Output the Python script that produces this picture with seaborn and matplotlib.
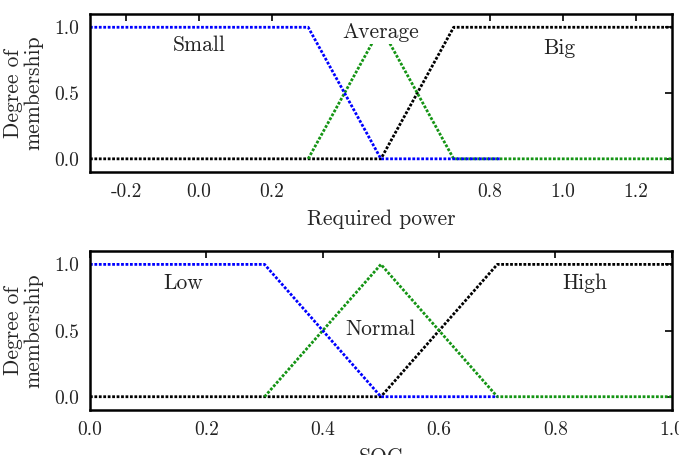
import matplotlib
matplotlib.use("Agg")
import matplotlib.pyplot as plt
import seaborn as sns

# Membership functions - required power
power_small_x = [-0.3, 0.3, 0.5, 0.83]
power_small_y = [1.0, 1.0, 0.0, 0.0]
power_avg_x = [0.3, 0.5, 0.7, 1.3]
power_avg_y = [0.0, 1.0, 0.0, 0.0]
power_big_x = [-0.3, 0.5, 0.7, 1.3]
power_big_y = [0.0, 0.0, 1.0, 1.0]

# Membership functions - SOC
soc_low_x = [0.0, 0.3, 0.5, 0.7]
soc_low_y = [1.0, 1.0, 0.0, 0.0]
soc_normal_x = [0.3, 0.5, 0.7, 1.0]
soc_normal_y = [0.0, 1.0, 0.0, 0.0]
soc_high_x = [0.0, 0.5, 0.7, 1.0]
soc_high_y = [0.0, 0.0, 1.0, 1.0]

power_ticks = [-0.2, 0.0, 0.2, 0.8, 1.0, 1.2]
soc_ticks = [0.0, 0.2, 0.4, 0.6, 0.8, 1.0]
y_ticks = [0.0, 0.5, 1.0]

sns.set_style("white")
plt.rcParams["font.family"] = ["cmr10", "DejaVu Serif"]
plt.rcParams["axes.unicode_minus"] = False
plt.rcParams["text.color"] = "#222222"

fs = 14      # tick labels
lfs = 15.5   # axis labels and annotations
dots = (0, (1, 0.6))

fig = plt.figure(figsize=(6.79, 4.55), dpi=100)
ax1 = fig.add_axes([0.1325, 0.622, 0.857, 0.347])
ax2 = fig.add_axes([0.1325, 0.099, 0.857, 0.349])

# top panel
sns.lineplot(x=power_big_x, y=power_big_y, ax=ax1, color="black", lw=2, linestyle=dots)
sns.lineplot(x=power_avg_x, y=power_avg_y, ax=ax1, color="#149414", lw=2, linestyle=dots)
sns.lineplot(x=power_small_x, y=power_small_y, ax=ax1, color="blue", lw=2, linestyle=dots)
ax1.set_xlim(-0.3, 1.3)
ax1.set_xticks(power_ticks)
ax1.set_xticklabels([f"{t:.1f}" for t in power_ticks])
ax1.set_xlabel("Required power", fontsize=lfs, labelpad=6)
ax1.text(0.0, 0.86, "Small", fontsize=lfs, ha="center", va="center")
ax1.text(0.5, 0.96, "Average", fontsize=lfs, ha="center", va="center",
         bbox=dict(facecolor="white", edgecolor="none", pad=1), zorder=5)
ax1.text(0.99, 0.84, "Big", fontsize=lfs, ha="center", va="center")

# bottom panel
sns.lineplot(x=soc_high_x, y=soc_high_y, ax=ax2, color="black", lw=2, linestyle=dots)
sns.lineplot(x=soc_normal_x, y=soc_normal_y, ax=ax2, color="#149414", lw=2, linestyle=dots)
sns.lineplot(x=soc_low_x, y=soc_low_y, ax=ax2, color="blue", lw=2, linestyle=dots)
ax2.set_xlim(0.0, 1.0)
ax2.set_xticks(soc_ticks)
ax2.set_xticklabels([f"{t:.1f}" for t in soc_ticks])
ax2.set_xlabel("SOC", fontsize=lfs, labelpad=6)
ax2.text(0.16, 0.86, "Low", fontsize=lfs, ha="center", va="center")
ax2.text(0.50, 0.51, "Normal", fontsize=lfs, ha="center", va="center")
ax2.text(0.85, 0.86, "High", fontsize=lfs, ha="center", va="center")

for ax in (ax1, ax2):
    ax.set_ylim(-0.1, 1.1)
    ax.set_yticks(y_ticks)
    ax.set_yticklabels([f"{t:.1f}" for t in y_ticks])
    ax.set_ylabel("Degree of\nmembership", fontsize=lfs, linespacing=1.0)
    ax.yaxis.set_label_coords(-0.081, 0.5)
    ax.tick_params(direction="in", length=5, width=1.2, top=True, right=True,
                   labelsize=fs, pad=8, colors="black", labelcolor="#222222")
    for s in ax.spines.values():
        s.set_linewidth(1.8)
        s.set_color("black")

fig.savefig("out.png", dpi=100)
